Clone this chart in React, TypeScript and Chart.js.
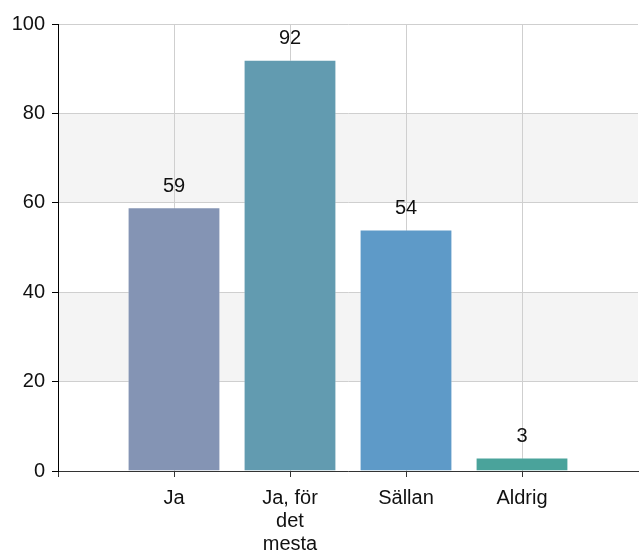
import React, { useEffect, useRef } from "react";
import { Chart, registerables } from "chart.js";

Chart.register(...registerables);

const categories: (string | string[])[] = ["", "Ja", ["Ja, för", "det", "mesta"], "Sällan", "Aldrig", ""];
const values: (number | null)[] = [null, 59, 92, 54, 3, null];
const barColors: string[] = ["#000", "#8494B4", "#629BB0", "#5E9AC8", "#4AA39B", "#000"];
const yTicks: number[] = [0, 20, 40, 60, 80, 100];
const bands: [number, number][] = [[20, 40], [60, 80]];

const FONT = "'Liberation Sans', Arial, sans-serif";

const bandPlugin = {
  id: "bands",
  beforeDraw(chart: any) {
    const { ctx, chartArea, scales } = chart;
    const y = scales.y;
    ctx.save();
    ctx.fillStyle = "#F4F4F4";
    for (const [a, b] of bands) {
      const top = y.getPixelForValue(b);
      const bot = y.getPixelForValue(a);
      ctx.fillRect(chartArea.left, top, chartArea.right - chartArea.left, bot - top);
    }
    ctx.restore();
  },
};

const labelPlugin = {
  id: "valueLabels",
  afterDatasetsDraw(chart: any) {
    const { ctx } = chart;
    const meta = chart.getDatasetMeta(0);
    ctx.save();
    ctx.font = `20px ${FONT}`;
    ctx.fillStyle = "#111";
    ctx.textAlign = "center";
    ctx.textBaseline = "middle";
    meta.data.forEach((bar: any, i: number) => {
      const v = values[i];
      if (v === null || v === undefined) return;
      ctx.fillText(String(v), bar.x, bar.y - 21);
    });
    ctx.restore();
  },
};

const lastIndex = categories.length - 1;

export default function App() {
  const ref = useRef<HTMLCanvasElement>(null);
  useEffect(() => {
    if (!ref.current) return;
    const chart = new Chart(ref.current, {
      type: "bar",
      data: {
        labels: categories,
        datasets: [
          {
            data: values,
            backgroundColor: barColors,
            borderColor: "rgba(255,255,255,0.35)",
            borderWidth: 1,
            barPercentage: 0.8,
            categoryPercentage: 1.0,
          },
        ],
      },
      options: {
        responsive: false,
        animation: false,
        layout: { padding: { top: 24, right: 1, left: 0, bottom: 0 } },
        plugins: { legend: { display: false }, tooltip: { enabled: false } },
        scales: {
          x: {
            type: "category",
            offset: false,
            grid: {
              offset: false,
              color: (c: any) => (c.index === lastIndex ? "rgba(0,0,0,0)" : "#CFCFCF"),
              tickColor: (c: any) => (c.index === lastIndex ? "rgba(0,0,0,0)" : "#333"),
              tickLength: 6,
              drawTicks: true,
            },
            border: { color: "#333", width: 1 },
            ticks: {
              font: { size: 20, family: FONT, lineHeight: 1.15 },
              color: "#111",
              padding: 10,
              maxRotation: 0,
              autoSkip: false,
            },
            afterFit(scale: any) {
              scale.height = 85;
              scale.paddingLeft = 0;
              scale.paddingRight = 0;
            },
          },
          y: {
            min: 0,
            max: 100,
            afterBuildTicks(scale: any) {
              scale.ticks = yTicks.map((v) => ({ value: v }));
            },
            grid: { color: "#CFCFCF", tickColor: "#000", tickLength: 6 },
            border: { color: "#000", width: 1 },
            ticks: {
              font: { size: 20, family: FONT },
              color: "#111",
              padding: 7,
            },
            afterFit(scale: any) {
              scale.width = 58;
              scale.paddingTop = 0;
              scale.paddingBottom = 0;
            },
          },
        },
      },
      plugins: [bandPlugin, labelPlugin],
    });
    return () => chart.destroy();
  }, []);
  return (
    <div style={{ position: "absolute", left: 0, top: 0, width: 639, height: 556, background: "#fff" }}>
      <canvas ref={ref} width={639} height={556} />
    </div>
  );
}
